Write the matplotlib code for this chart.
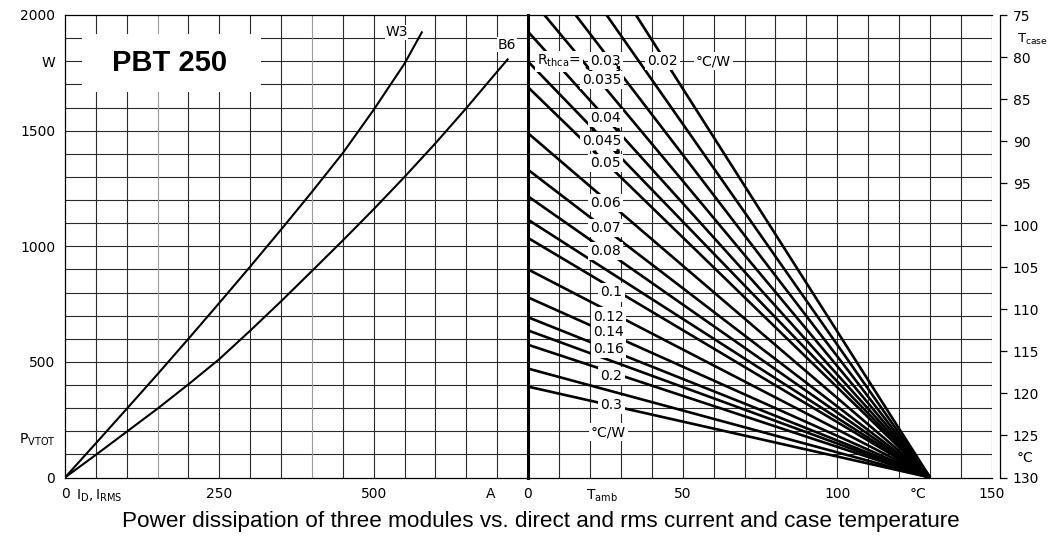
import matplotlib.pyplot as plt

plt.rcParams["font.family"] = ["DejaVu Sans"]

# left panel: power vs current
w3_current = [0, 50, 100, 150, 200, 250, 300, 350, 400, 450, 500, 550, 578]
w3_power = [0, 148, 297, 447, 600, 755, 912, 1072, 1235, 1403, 1590, 1790, 1925]
b6_current = [0, 50, 100, 150, 200, 250, 300, 350, 400, 450, 500, 550, 600, 650, 700, 717]
b6_power = [0, 98, 198, 298, 403, 512, 635, 762, 893, 1025, 1160, 1300, 1445, 1597, 1755, 1808]

# right panel: Rthca lines, start point (T_amb, P) -> all meet at (130, 0)
rth_start_t = [34.9, 25.4, 15.4, 5.3, 0, 0, 0, 0, 0, 0, 0, 0, 0, 0, 0, 0, 0, 0, 0]
rth_start_p = [2000, 2000, 2000, 2000, 1928, 1799, 1688, 1489, 1331, 1216, 1115, 1036,
               900, 779, 693, 636, 574, 471, 393]
t_converge = 130

rth_labels = ["0.03", "0.02", "0.035", "0.04", "0.045", "0.05", "0.06", "0.07", "0.08",
              "0.1", "0.12", "0.14", "0.16", "0.2", "0.3"]
rth_label_t = [25, 43.5, 24, 25, 24, 25, 25, 25, 25, 27, 26, 26, 26, 27, 27]
rth_label_p = [1800, 1800, 1719, 1554, 1453, 1360, 1187, 1079, 978, 800, 696, 629, 557, 439, 314]

# little leader arrows next to the crowded labels (from T, P to T, P)
arrow_from = [(18.3, 1791), (28.3, 1791), (20.7, 1510), (28.8, 1510), (21.3, 1413), (28.8, 1419)]
arrow_to = [(19.9, 1760), (29.9, 1759), (21.8, 1492), (29.9, 1492), (22.3, 1395), (29.7, 1399)]

tcase_ticks = [75, 80, 85, 90, 95, 100, 105, 110, 115, 120, 125, 130]

W, H = 1060, 542
fig = plt.figure(figsize=(W / 100, H / 100), dpi=100)

x0, x_mid, x1 = 65, 528, 992
y_top, y_bot = 15, 477.5
ax1 = fig.add_axes([x0 / W, (H - y_bot) / H, (x_mid - x0) / W, (y_bot - y_top) / H])
ax2 = fig.add_axes([x_mid / W, (H - y_bot) / H, (x1 - x_mid) / W, (y_bot - y_top) / H])

fs = 10
gcol = "#2a2a2a"
for ax, xmax, step in [(ax1, 750, 50), (ax2, 150, 10)]:
    ax.set_xlim(0, xmax)
    ax.set_ylim(0, 2000)
    for p in range(100, 2000, 100):
        ax.axhline(p, color=gcol, lw=0.8, zorder=1)
    for v in range(step, xmax + 1, step):
        c = "#9a9a9a" if (ax is ax1 and v in (150, 400)) else gcol
        ax.axvline(v, color=c, lw=0.8, zorder=1)
    for s in ax.spines.values():
        s.set_linewidth(0.9)
    ax.spines["right"].set_visible(False)
    ax.tick_params(length=0, labelsize=fs, pad=7)

ax2.spines["left"].set_linewidth(2.2)
ax2.spines["left"].set_zorder(5)

# curves
ax1.plot(w3_current, w3_power, color="black", lw=1.5, zorder=3)
ax1.plot(b6_current, b6_power, color="black", lw=1.5, zorder=3)
ax1.text(537, 1925, "W3", fontsize=fs, ha="center", va="center", zorder=4,
         bbox=dict(facecolor="white", edgecolor="none", pad=0.5))
ax1.text(716, 1872, "B6", fontsize=fs, ha="center", va="center", zorder=4,
         bbox=dict(facecolor="white", edgecolor="none", pad=0.5))

# title box
ax1.add_patch(plt.Rectangle((27, 1665), 290, 255, facecolor="white", edgecolor="none", zorder=2))
ax1.text(170, 1792, "PBT 250", fontsize=21, fontweight="bold", family="Liberation Sans",
         ha="center", va="center", zorder=4)

ax1.set_xticks([0, 55, 250, 500, 690])
ax1.set_xticklabels(["0", r"$\mathregular{I_{D},I_{RMS}}$", "250", "500", "A"])
ax1.set_yticks([0, 171, 500, 1000, 1500, 1800, 2000])
ax1.set_yticklabels(["0", r"$\mathregular{P_{VTOT}}$", "500", "1000", "1500", "W", "2000"])

# Rthca lines
for t0, p0 in zip(rth_start_t, rth_start_p):
    ax2.plot([t0, t_converge], [p0, 0], color="black", lw=1.9, zorder=3,
             solid_capstyle="butt")

box = dict(facecolor="white", edgecolor="none", pad=1.5)
for lab, t, p in zip(rth_labels, rth_label_t, rth_label_p):
    ax2.text(t, p, lab, fontsize=fs, ha="center", va="center", zorder=4, bbox=box)
ax2.text(10, 1800, r"$\mathregular{R_{thca}}$=", fontsize=fs, ha="center", va="center",
         zorder=4, bbox=box)
ax2.text(60, 1800, "°C/W", fontsize=fs, ha="center", va="center", zorder=4, bbox=box)
ax2.text(26, 196, "°C/W", fontsize=fs, ha="center", va="center", zorder=4, bbox=box)
for a, b in zip(arrow_from, arrow_to):
    ax2.annotate("", xy=b, xytext=a, zorder=5,
                 arrowprops=dict(arrowstyle="-|>", color="black", lw=0.9, mutation_scale=5,
                                 shrinkA=0, shrinkB=0))

ax2.set_xticks([0, 24, 50, 100, 126, 150])
ax2.set_xticklabels(["0", r"$\mathregular{T_{amb}}$", "50", "100", "°C", "150"])
ax2.set_yticks([])

# case temperature axis
ax3 = ax2.twinx()
ax3.set_ylim(130, 75)
for side in ["top", "bottom", "left"]:
    ax3.spines[side].set_visible(False)
ax3.spines["right"].set_position(("outward", 6))
ax3.spines["right"].set_linewidth(0.9)
ax3.set_yticks(tcase_ticks)
ax3.tick_params(axis="y", direction="out", length=5, width=0.9, labelsize=fs, pad=4)
ax3.text(1.053, 0.948, r"$\mathregular{T_{case}}$", transform=ax2.transAxes, fontsize=9.5,
         ha="left", va="center")
ax3.text(1.053, 0.043, "°C", transform=ax2.transAxes, fontsize=fs, ha="left", va="center")

fig.text(0.51, 0.037, "Power dissipation of three modules vs. direct and rms current and case temperature",
         fontsize=16.2, family="Liberation Sans", ha="center", va="center")

fig.savefig("out.png", dpi=100)
